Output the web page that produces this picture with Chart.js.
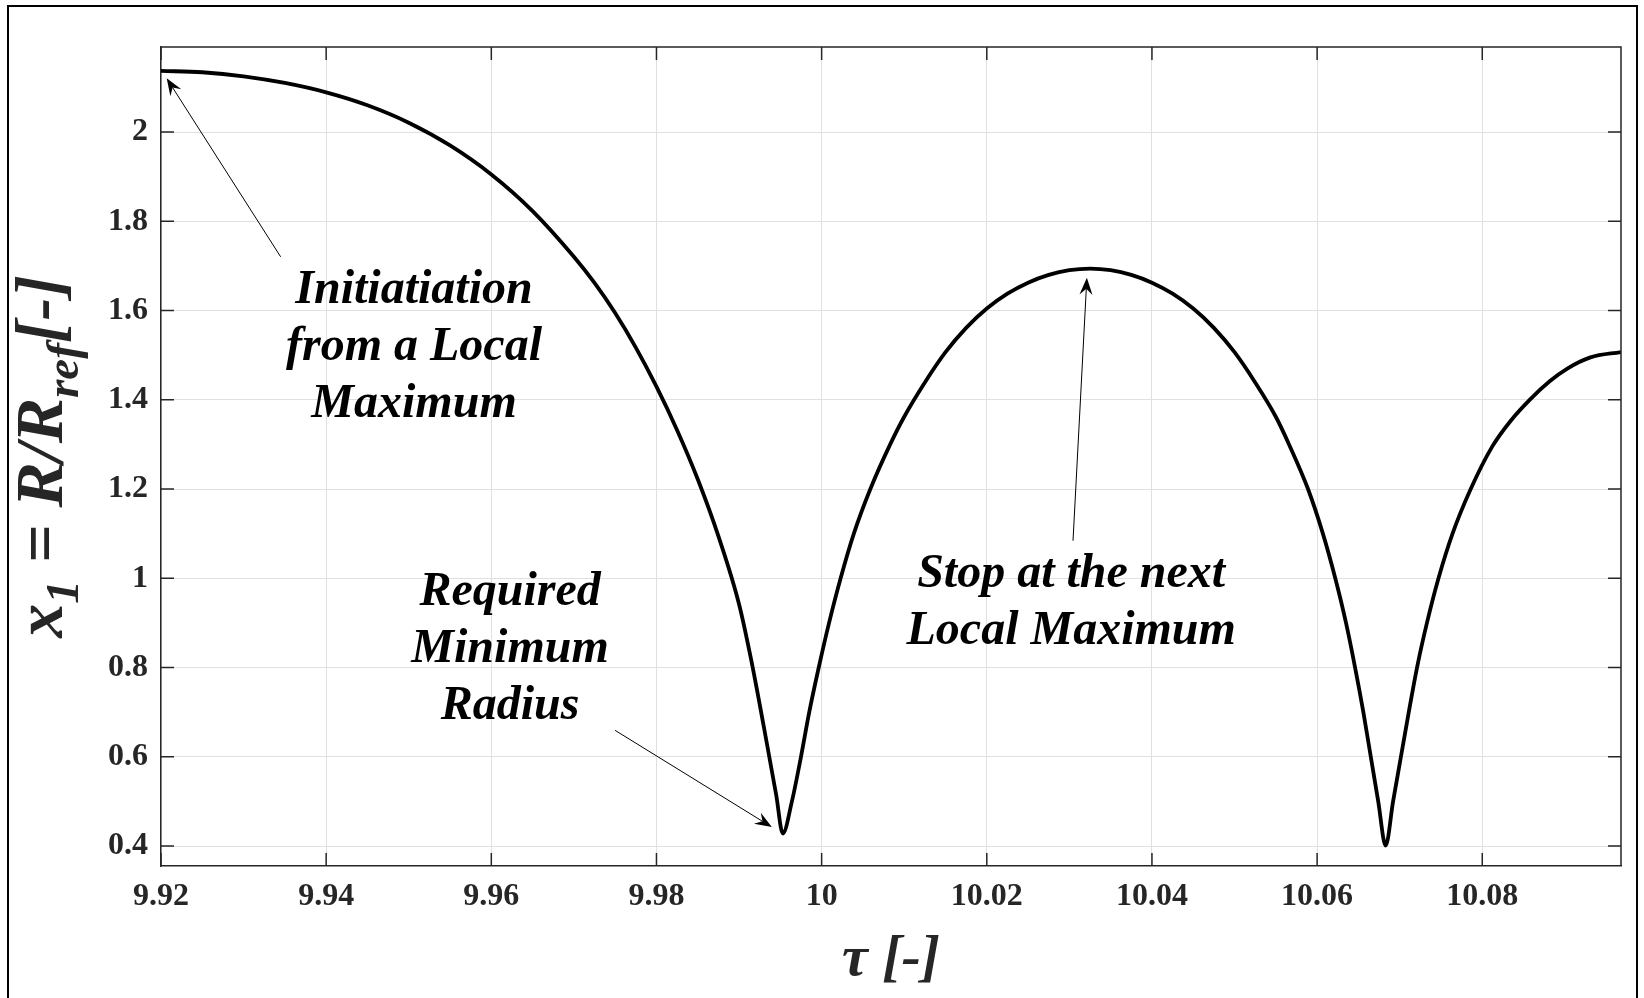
<!DOCTYPE html>
<html><head><meta charset="utf-8">
<script src="https://cdn.jsdelivr.net/npm/chart.js@4.4.1/dist/chart.umd.min.js"></script>
<style>html,body{margin:0;padding:0;background:#fff;}canvas{display:block;}</style>
</head><body>
<canvas id="c" width="1644" height="998"></canvas>
<script>
// ---- data ----
const TAU = [9.920, 9.925, 9.930, 9.935, 9.940, 9.945, 9.950, 9.955, 9.960, 9.965,
  9.970, 9.9725, 9.975, 9.9775, 9.980, 9.9825, 9.985, 9.9875, 9.990, 9.9915,
  9.993, 9.9945, 9.9953, 9.9964, 9.9975, 9.9985, 9.99965, 10.0009, 10.0023, 10.0039,
  10.0059, 10.0083, 10.0100, 10.0125, 10.0150, 10.0175, 10.0200, 10.0225, 10.0250, 10.0275,
  10.0300, 10.0325, 10.0350, 10.0375, 10.0400, 10.0425, 10.0450, 10.0475, 10.0500, 10.0525,
  10.0550, 10.0566, 10.0589, 10.0607, 10.0622, 10.0635, 10.0646, 10.0656, 10.0665, 10.0674,
  10.0683, 10.0692, 10.07015, 10.0711, 10.0721, 10.0733, 10.0747, 10.0764, 10.0786, 10.0812,
  10.0834, 10.0858, 10.0882, 10.0903, 10.0931, 10.0968];
const X1 = [2.137, 2.134, 2.125, 2.110, 2.089, 2.060, 2.021, 1.970, 1.905, 1.823,
  1.7205, 1.6618, 1.5943, 1.5168, 1.4293, 1.3318, 1.2218, 1.0943, 0.9418, 0.8143,
  0.6673, 0.5143, 0.428, 0.500, 0.600, 0.700, 0.800, 0.900, 1.000, 1.100,
  1.200, 1.300, 1.362, 1.4388, 1.5066, 1.5612, 1.6046, 1.6378, 1.6625, 1.6800,
  1.6905, 1.6940, 1.6905, 1.6800, 1.6625, 1.6378, 1.6046, 1.5612, 1.5066, 1.4388,
  1.362, 1.300, 1.200, 1.100, 1.000, 0.900, 0.800, 0.700, 0.600, 0.500,
  0.401, 0.500, 0.600, 0.700, 0.800, 0.900, 1.000, 1.100, 1.200, 1.295,
  1.352, 1.401, 1.442, 1.470, 1.495, 1.507];
const X_TICKS = [9.92, 9.94, 9.96, 9.98, 10, 10.02, 10.04, 10.06, 10.08];
const X_TICK_LABELS = ['9.92', '9.94', '9.96', '9.98', '10', '10.02', '10.04', '10.06', '10.08'];
const Y_TICKS = [0.4, 0.6, 0.8, 1, 1.2, 1.4, 1.6, 1.8, 2];
const Y_TICK_LABELS = ['0.4', '0.6', '0.8', '1', '1.2', '1.4', '1.6', '1.8', '2'];
const X_RANGE = [9.92, 10.0968];
const Y_RANGE = [0.3552, 2.1906];
const NOTE_TEXTS = [
  ['Initiatiation', 'from a Local', 'Maximum'],
  ['Required', 'Minimum', 'Radius'],
  ['Stop at the next', 'Local Maximum']
];

// ---- annotation placement (data coordinates) ----
const NOTE_PLACES = [
  { x: 9.95064, y: 1.6166, tail: [9.93449, 1.7204], tip: [9.92069, 2.1204] },
  { x: 9.96227, y: 0.9395, tail: [9.97499, 0.6592], tip: [9.99397, 0.4424] },
  { x: 10.03022, y: 0.9798, tail: [10.03044, 1.0841], tip: [10.03212, 1.6735] }
];

const SERIF = "'Liberation Serif', 'Times New Roman', serif";
const INK = '#262626';

function drawArrow(ctx, x0, y0, x1, y1) {
  const ang = Math.atan2(y1 - y0, x1 - x0);
  const L = 17, W = 6.5, N = 11;
  ctx.save();
  ctx.strokeStyle = '#000'; ctx.fillStyle = '#000'; ctx.lineWidth = 1;
  ctx.beginPath();
  ctx.moveTo(x0, y0);
  ctx.lineTo(x1 - N * Math.cos(ang), y1 - N * Math.sin(ang));
  ctx.stroke();
  ctx.translate(x1, y1); ctx.rotate(ang);
  ctx.beginPath();
  ctx.moveTo(0, 0); ctx.lineTo(-L, -W); ctx.lineTo(-N, 0); ctx.lineTo(-L, W);
  ctx.closePath(); ctx.fill();
  ctx.restore();
}

function drawRich(ctx, segs, mainFont, subFont, subShift) {
  let w = 0;
  segs.forEach(s => { ctx.font = s.sub ? subFont : mainFont; s.w = ctx.measureText(s.t).width; w += s.w; });
  let x = -w / 2;
  segs.forEach(s => { ctx.font = s.sub ? subFont : mainFont; ctx.fillText(s.t, x, s.sub ? subShift : 0); x += s.w; });
}

const decor = {
  id: 'decor',
  beforeDraw(chart) {
    const ctx = chart.ctx;
    ctx.save(); ctx.fillStyle = '#fff'; ctx.fillRect(0, 0, chart.width, chart.height); ctx.restore();
  },
  afterDraw(chart) {
    const ctx = chart.ctx, a = chart.chartArea, xs = chart.scales.x, ys = chart.scales.y;
    ctx.save();
    // top and right box lines
    ctx.strokeStyle = INK; ctx.lineWidth = 1.5;
    ctx.beginPath();
    ctx.moveTo(a.left, a.top); ctx.lineTo(a.right, a.top); ctx.lineTo(a.right, a.bottom);
    ctx.stroke();
    // inward ticks on all four sides
    const TL = 13;
    X_TICKS.forEach(v => {
      const p = xs.getPixelForValue(v);
      ctx.beginPath();
      ctx.moveTo(p, a.bottom); ctx.lineTo(p, a.bottom - TL);
      ctx.moveTo(p, a.top); ctx.lineTo(p, a.top + TL);
      ctx.stroke();
    });
    Y_TICKS.forEach(v => {
      const p = ys.getPixelForValue(v);
      ctx.beginPath();
      ctx.moveTo(a.left, p); ctx.lineTo(a.left + TL, p);
      ctx.moveTo(a.right, p); ctx.lineTo(a.right - TL, p);
      ctx.stroke();
    });
    // outer frame
    ctx.strokeStyle = '#000'; ctx.lineWidth = 2;
    ctx.strokeRect(8, 6, 1629, 1010);

    // annotations
    ctx.fillStyle = '#000';
    ctx.font = 'italic bold 48px ' + SERIF;
    ctx.textAlign = 'center'; ctx.textBaseline = 'alphabetic';
    NOTE_PLACES.forEach((n, i) => {
      const cx = xs.getPixelForValue(n.x), cy = ys.getPixelForValue(n.y);
      NOTE_TEXTS[i].forEach((line, k) => ctx.fillText(line, cx, cy + k * 57));
      drawArrow(ctx, xs.getPixelForValue(n.tail[0]), ys.getPixelForValue(n.tail[1]),
        xs.getPixelForValue(n.tip[0]), ys.getPixelForValue(n.tip[1]));
    });

    // axis titles
    ctx.textAlign = 'left';
    ctx.fillStyle = INK;
    ctx.save();
    ctx.translate(62, (a.top + a.bottom) / 2);
    ctx.rotate(-Math.PI / 2);
    drawRich(ctx, [
      { t: 'x' }, { t: '1', sub: true }, { t: ' = R/R' }, { t: 'ref', sub: true }, { t: '[-]' }
    ], 'italic bold 68px ' + SERIF, 'italic bold 47px ' + SERIF, 16);
    ctx.restore();
    ctx.save();
    ctx.translate((a.left + a.right) / 2, 975);
    drawRich(ctx, [{ t: 'τ [-]' }], 'italic bold 58px ' + SERIF, 'italic bold 40px ' + SERIF, 12);
    ctx.restore();
    ctx.restore();
  }
};

const tickFont = { family: SERIF, size: 32, weight: 'bold' };

new Chart(document.getElementById('c').getContext('2d'), {
  type: 'line',
  data: {
    datasets: [{
      data: TAU.map((t, i) => ({ x: t, y: X1[i] })),
      borderColor: '#000', borderWidth: 3.8, pointRadius: 0,
      cubicInterpolationMode: 'monotone', fill: false
    }]
  },
  options: {
    responsive: false, animation: false, devicePixelRatio: 1,
    layout: { padding: { left: 0, top: 47, right: 23, bottom: 0 } },
    plugins: { legend: { display: false }, tooltip: { enabled: false } },
    scales: {
      x: {
        type: 'linear', min: X_RANGE[0], max: X_RANGE[1],
        afterBuildTicks: s => { s.ticks = X_TICKS.map(v => ({ value: v })); },
        afterFit: s => { s.height = 132; },
        ticks: { callback: (v, i) => X_TICK_LABELS[i], font: tickFont, color: INK, padding: 12, maxRotation: 0, autoSkip: false },
        grid: { color: '#e0e0e0', lineWidth: 1, drawTicks: false },
        border: { display: true, color: INK, width: 1.5 }
      },
      y: {
        type: 'linear', min: Y_RANGE[0], max: Y_RANGE[1],
        afterBuildTicks: s => { s.ticks = Y_TICKS.map(v => ({ value: v })); },
        afterFit: s => { s.width = 161; },
        ticks: { callback: (v, i) => Y_TICK_LABELS[i], font: tickFont, color: INK, padding: 13, autoSkip: false },
        grid: { color: '#e0e0e0', lineWidth: 1, drawTicks: false },
        border: { display: true, color: INK, width: 1.5 }
      }
    }
  },
  plugins: [decor]
});
</script>
</body></html>
